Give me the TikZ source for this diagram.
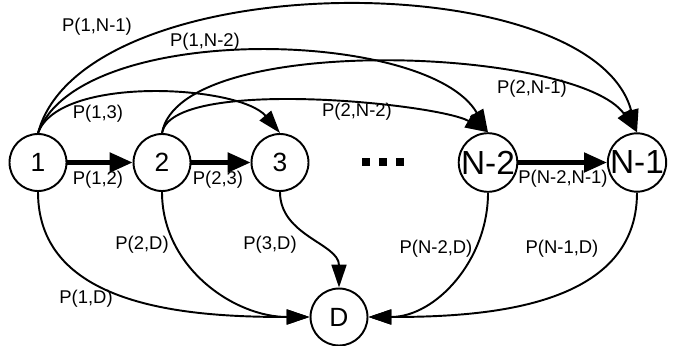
\documentclass[tikz,border=0pt]{standalone}
\usepackage{fontspec}
\setmainfont{Liberation Sans}
\usepackage{tikz}
\usetikzlibrary{arrows.meta}
\tikzset{ state/.style = {circle, draw, line width=1.1pt, minimum size=1.14cm, inner sep=0pt, font=\fontsize{15}{15}\selectfont} }
\tikzset{ wide/.style = {font=\fontsize{19}{19}\selectfont} }
\tikzset{ prob/.style = {font=\fontsize{10.5}{12}\selectfont, inner sep=0pt} }
\tikzset{ trans/.style = {line width=1.1pt, -{Triangle[length=13pt, width=8.5pt]}} }
\tikzset{ direct/.style = {line width=2.3pt, -{Triangle[length=13pt, width=11pt]}} }

\begin{document}
\begin{tikzpicture}[x=0.02cm, y=0.02cm]
        \useasboundingbox (0,0) rectangle (675,345);
        \node [state] (n1) at (38,182.5) {1};
        \node [state] (n2) at (162,182.5) {2};
        \node [state] (n3) at (280,182.5) {3};
        \node [state, wide] (nm2) at (488,182.5) {N-2};
        \node [state, wide] (nm1) at (637,182.5) {N-1};
        \node [state] (d) at (339,28) {D};
        \foreach \x in {366,383,400}
                \fill (\x-4,179) rectangle (\x+4,187);
        \draw[direct] (n1) to (n2);
        \draw[direct] (n2) to (n3);
        \draw[direct] (nm2) to (nm1);
        \draw[trans] (n1.north) to[out=70, in=130, looseness=0.66] (n3.north);
        \draw[trans] (n1.north) to[out=70, in=120, looseness=0.68] (nm2.north);
        \draw[trans] (n1.north) to[out=75, in=105, looseness=0.75] (nm1.north);
        \draw[trans] (n2.north) to[out=80, in=150, looseness=0.45] (nm2.north);
        \draw[trans] (n2.north) to[out=80, in=125, looseness=0.56] (nm1.north);
        \draw[trans] (n1.south) to[out=-90, in=180] (d.west);
        \draw[trans] (n2.south) to[out=-90, in=180] (d.west);
        \draw[trans] (n3.south) to[out=-90, in=90] (d.north);
        \draw[trans] (nm2.south) to[out=-90, in=0] (d.east);
        \draw[trans] (nm1.south) to[out=-90, in=0] (d.east);
        % transition probabilities
        \node [prob] (p1n1) at (97,318) {P(1,N-1)};
        \node [prob] (p1n2) at (205,303) {P(1,N-2)};
        \node [prob] (p13) at (98,231) {P(1,3)};
        \node [prob] (p2n2) at (357,233) {P(2,N-2)};
        \node [prob] (p2n1) at (532,256) {P(2,N-1)};
        \node [prob] (p12) at (98,165) {P(1,2)};
        \node [prob] (p23) at (218,165) {P(2,3)};
        \node [prob] (pn2n1) at (563,166) {P(N-2,N-1)};
        \node [prob] (p2d) at (142,100) {P(2,D)};
        \node [prob] (p3d) at (270,100) {P(3,D)};
        \node [prob] (p1d) at (86,46) {P(1,D)};
        \node [prob] (pn2d) at (436,96) {P(N-2,D)};
        \node [prob] (pn1d) at (562,96) {P(N-1,D)};
\end{tikzpicture}
\end{document}
